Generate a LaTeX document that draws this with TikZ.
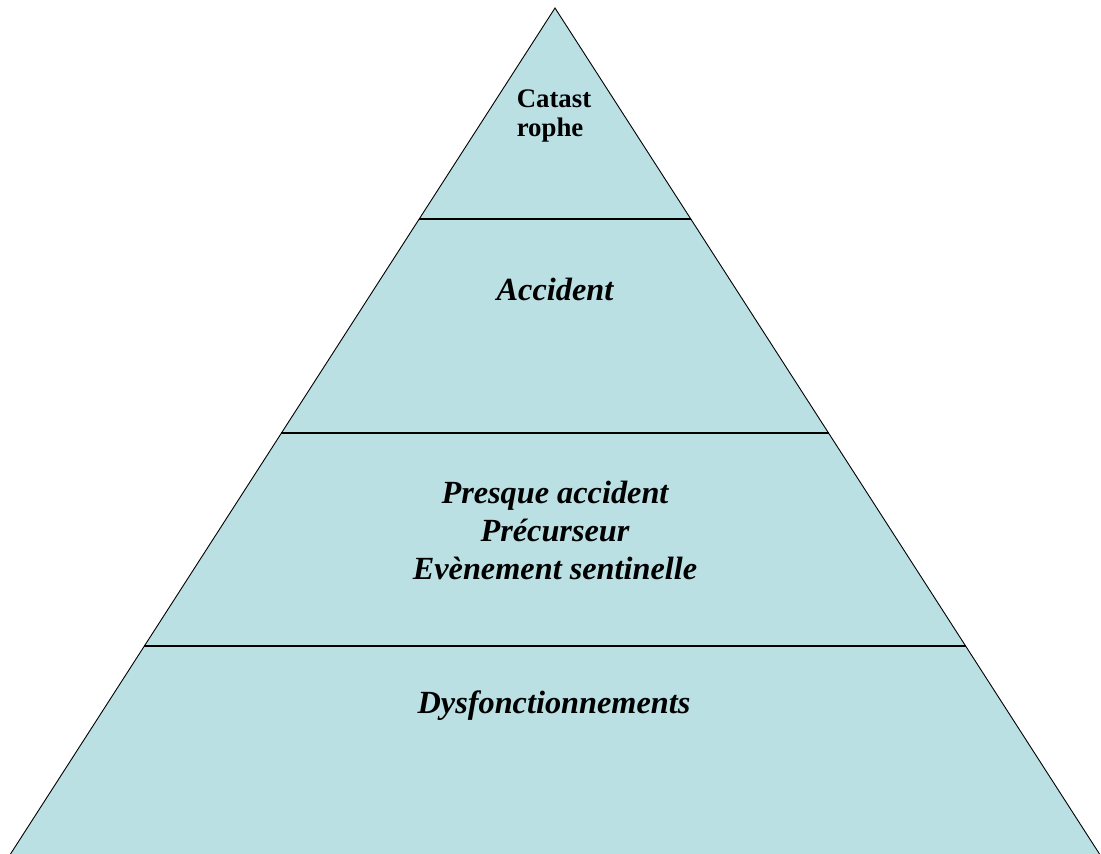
\documentclass[tikz,border=0pt]{standalone}
\usepackage{fontspec}
\setmainfont{Liberation Serif}
\usetikzlibrary{calc}
\definecolor{pyrfill}{RGB}{186,224,227}
\tikzset{
  layerline/.style={draw=black, line width=1.1pt},
  edgeline/.style={draw=black, line width=0.9pt},
  italabel/.style={font=\fontsize{32.3}{38}\selectfont\bfseries\itshape, anchor=base, align=center, inner sep=0pt},
  toplabel/.style={font=\fontsize{26.8}{29}\selectfont\bfseries, anchor=base, align=left, inner sep=0pt}
}
\begin{document}
\begin{tikzpicture}[x=1pt,y=-1pt]
\useasboundingbox (0,0) rectangle (1101,854);
\coordinate (apex) at (555,8);
\coordinate (bl) at (10.5,854);
\coordinate (br) at (1099.5,854);
\fill[pyrfill] (apex) -- (bl) -- (br) -- cycle;
\draw[edgeline] (bl) -- (apex) -- (br);
% separators
\coordinate (s1l) at ($(apex)!{(219-8)/846}!(bl)$);
\coordinate (s1r) at ($(apex)!{(219-8)/846}!(br)$);
\coordinate (s2l) at ($(apex)!{(433-8)/846}!(bl)$);
\coordinate (s2r) at ($(apex)!{(433-8)/846}!(br)$);
\coordinate (s3l) at ($(apex)!{(646-8)/846}!(bl)$);
\coordinate (s3r) at ($(apex)!{(646-8)/846}!(br)$);
\draw[layerline] (s1l) -- (s1r);
\draw[layerline] (s2l) -- (s2r);
\draw[layerline] (s3l) -- (s3r);
% labels (base anchor = baseline of last line)
\node[toplabel] (cat) at (554,136) {Catast\\rophe};
\node[italabel] (acc) at (555,300) {Accident};
\node[italabel] (pre) at (555,579) {Presque accident\\Précurseur\\Evènement sentinelle};
\node[italabel] (dys) at (554,713) {Dysfonctionnements};
\end{tikzpicture}
\end{document}
